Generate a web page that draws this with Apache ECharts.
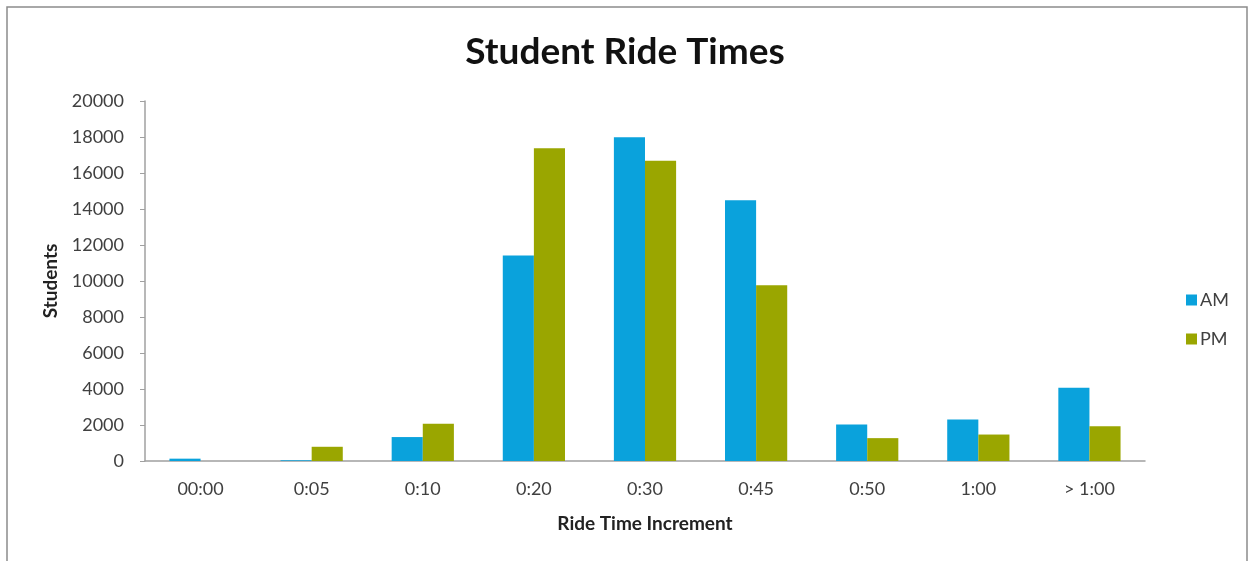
<!DOCTYPE html>
<html>
<head>
<meta charset="utf-8">
<script src="https://cdn.jsdelivr.net/npm/echarts@6/dist/echarts.min.js"></script>
<style>
html,body{margin:0;padding:0;background:#fff;}
#c{width:1250px;height:561px;}
</style>
</head>
<body>
<div id="c"></div>
<script>
const categories = ['00:00','0:05','0:10','0:20','0:30','0:45','0:50','1:00','> 1:00'];
const amValues = [130, 40, 1330, 11420, 17980, 14480, 2030, 2300, 4070];
const pmValues = [0, 790, 2070, 17370, 16680, 9770, 1270, 1470, 1930];
const yTicks = [0, 20000, 2000];

const font = 'Lato, "Open Sans", sans-serif';
const chart = echarts.init(document.getElementById('c'));
chart.setOption({
  backgroundColor: '#fff',
  animation: false,
  graphic: [{
    type: 'rect',
    shape: {x: 7, y: 7, width: 1240, height: 560},
    style: {fill: 'none', stroke: '#8c8c8c', lineWidth: 1.5},
    silent: true
  }],
  title: {
    text: 'Student Ride Times',
    left: 'center',
    top: 29,
    textStyle: {fontFamily: font, fontSize: 37, fontWeight: 'bold', color: '#111'}
  },
  legend: {
    orient: 'vertical',
    left: 1181,
    top: 286,
    itemWidth: 11,
    itemHeight: 11,
    itemGap: 21,
    icon: 'rect',
    textStyle: {fontFamily: font, fontSize: 18, color: '#404040', padding: [0, 0, 0, -2]},
    data: ['AM', 'PM']
  },
  grid: {left: 145, right: 105, top: 101, bottom: 100, containLabel: false},
  xAxis: {
    type: 'category',
    data: categories,
    name: 'Ride Time Increment',
    nameLocation: 'middle',
    nameGap: 53,
    nameTextStyle: {fontFamily: font, fontSize: 19, fontWeight: 'bold', color: '#222'},
    axisLine: {lineStyle: {color: '#a0a0a0', width: 1.5}},
    axisTick: {show: false},
    axisLabel: {fontFamily: font, fontSize: 18, color: '#404040', margin: 19}
  },
  yAxis: {
    type: 'value',
    min: yTicks[0],
    max: yTicks[1],
    interval: yTicks[2],
    name: 'Students',
    nameLocation: 'middle',
    nameGap: 85,
    nameTextStyle: {fontFamily: font, fontSize: 19, fontWeight: 'bold', color: '#222'},
    axisLine: {show: true, lineStyle: {color: '#a0a0a0', width: 1.5}},
    axisTick: {show: true, length: 5, inside: false, lineStyle: {color: '#a0a0a0'}},
    splitLine: {show: false},
    axisLabel: {fontFamily: font, fontSize: 18, color: '#404040', margin: 21,
      formatter: function (v) { return String(v); }}
  },
  series: [
    {name: 'AM', type: 'bar', data: amValues, barGap: '0%', barCategoryGap: '44%',
     itemStyle: {color: '#0aa2dc'}},
    {name: 'PM', type: 'bar', data: pmValues, barGap: '0%', barCategoryGap: '44%',
     itemStyle: {color: '#9aa600'}}
  ]
});
</script>
</body>
</html>
